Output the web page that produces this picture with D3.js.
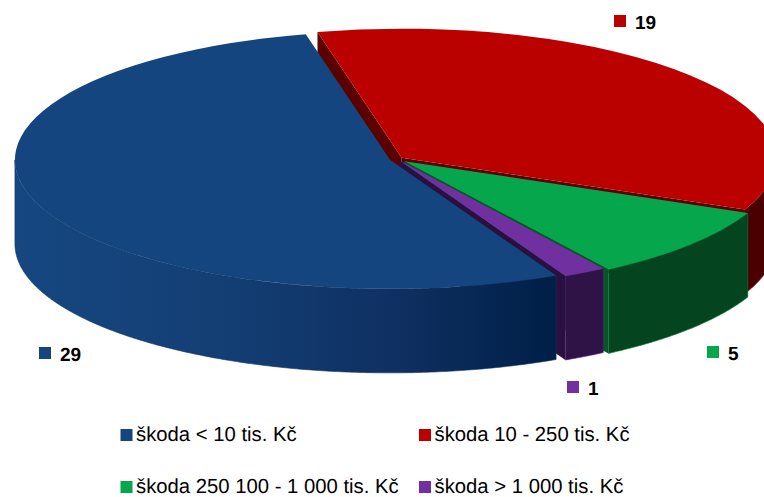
<!DOCTYPE html>
<html>

<head>
  <meta charset="utf-8">
  <title>Škody - 3D pie</title>
  <script src="https://cdn.jsdelivr.net/npm/d3@7/dist/d3.min.js"></script>
  <style type="text/css">
    html,
    body {
      margin: 0;
      padding: 0;
      background: #fff;
    }

    svg {
      display: block;
    }

    text {
      font-family: "Liberation Sans", Arial, sans-serif;
      fill: #000;
      text-rendering: geometricPrecision;
    }

    .value {
      font-size: 19px;
      font-weight: bold;
    }

    .legend text {
      font-size: 20.3px;
    }
  </style>
</head>

<body>
  <svg class="svg" width="764" height="497"></svg>
  <script type="text/javascript">
    var categories = ['škoda < 10 tis. Kč', 'škoda 10 - 250 tis. Kč', 'škoda 250 100 - 1 000 tis. Kč', 'škoda > 1 000 tis. Kč'];
    var values = [29, 19, 5, 1];

    var topColors = ['#14457f', '#bb0000', '#06a64d', '#7030a0'];
    var sideColors = ['url(#blueSide)', '#4a0000', '#04451f', '#2f1347'];
    var radialColors = ['#0c2a55', '#5a0000', '#06562a', '#2a1040'];
    var explode = [0.02, 0.016, 0.026, 0.012];

    // layout
    var cx = 397, cy = 159, rx = 375, ry = 129, depth = 84;
    var startAngle = 153.7 * Math.PI / 180;
    var valueLabels = [[39, 347], [614, 15], [707, 346], [567, 381]];
    var legendX = [120.5, 419], legendY = [429, 481];

    var svg = d3.select('.svg');

    var grad = svg.append('defs').append('linearGradient')
      .attr('id', 'blueSide')
      .attr('gradientUnits', 'userSpaceOnUse')
      .attr('x1', 15).attr('x2', 555).attr('y1', 0).attr('y2', 0);
    [[0, '#164780'], [0.4, '#133e74'], [0.7, '#0f3062'], [1, '#001f47']].forEach(function (s) {
      grad.append('stop').attr('offset', s[0]).attr('stop-color', s[1]);
    });

    var pie = d3.pie()
      .sort(null)
      .startAngle(startAngle)
      .endAngle(startAngle + Math.PI * 2);

    var arcs = pie(values);

    arcs.forEach(function (d, i) {
      // 角度換回 -90 ~ 270 的範圍
      if (d.startAngle >= Math.PI * 1.5) {
        d.startAngle -= Math.PI * 2;
        d.endAngle -= Math.PI * 2;
      }
      var mid = (d.startAngle + d.endAngle) / 2;
      d.x0 = cx + Math.sin(mid) * explode[i] * rx;
      d.y0 = cy - Math.cos(mid) * explode[i] * ry;
      d.i = i;
    });

    function px(d, a) { return d.x0 + Math.sin(a) * rx; }
    function py(d, a) { return d.y0 - Math.cos(a) * ry; }

    var topArc = d3.arc().innerRadius(0).outerRadius(rx);

    // 外牆 (只畫前面)
    function outerWall(d) {
      var a0 = Math.max(d.startAngle, Math.PI / 2);
      var a1 = Math.min(d.endAngle, Math.PI * 1.5);
      var angles = d3.range(a0, a1, 0.01).concat([a1]);
      return d3.area()
        .x(function (a) { return px(d, a); })
        .y0(function (a) { return py(d, a); })
        .y1(function (a) { return py(d, a) + depth; })(angles);
    }

    function radialWall(d, a) {
      return d3.line()([
        [d.x0, d.y0],
        [px(d, a), py(d, a)],
        [px(d, a), py(d, a) + depth],
        [d.x0, d.y0 + depth]
      ]) + 'Z';
    }

    // back to front
    var order = [1, 2, 3, 0];

    var slices = svg.selectAll('.slice')
      .data(order.map(function (i) { return arcs[i]; }))
      .enter()
      .append('g')
      .classed('slice', true);

    // visible cut faces: the clockwise end of each, the start only on red
    slices.filter(function (d) { return d.i !== 0; })
      .append('path')
      .attr('d', function (d) { return radialWall(d, d.endAngle); })
      .attr('fill', function (d) { return radialColors[d.i]; });

    slices.filter(function (d) { return d.i === 1; })
      .append('path')
      .attr('d', function (d) { return radialWall(d, d.startAngle); })
      .attr('fill', function (d) { return radialColors[d.i]; });

    slices.append('path')
      .attr('d', outerWall)
      .attr('fill', function (d) { return sideColors[d.i]; })
      .attr('stroke', function (d) { return d3.color(topColors[d.i]).darker(0.8); })
      .attr('stroke-width', 0.6);

    slices.append('path')
      .attr('d', topArc)
      .attr('transform', function (d) {
        return 'translate(' + d.x0 + ',' + d.y0 + ') scale(1,' + (ry / rx) + ')';
      })
      .attr('fill', function (d) { return topColors[d.i]; });

    // value labels
    var labels = svg.selectAll('.value-label')
      .data(values)
      .enter()
      .append('g')
      .classed('value-label', true)
      .attr('transform', function (d, i) {
        return 'translate(' + valueLabels[i][0] + ',' + valueLabels[i][1] + ')';
      });

    labels.append('rect')
      .attr('width', 12)
      .attr('height', 12)
      .attr('fill', function (d, i) { return topColors[i]; });

    labels.append('text')
      .classed('value', true)
      .attr('x', 21)
      .attr('y', 13.5)
      .text(function (d) { return d; });

    // legend
    var legend = svg.selectAll('.legend')
      .data(categories)
      .enter()
      .append('g')
      .classed('legend', true)
      .attr('transform', function (d, i) {
        return 'translate(' + legendX[i % 2] + ',' + legendY[Math.floor(i / 2)] + ')';
      });

    legend.append('rect')
      .attr('width', 12)
      .attr('height', 12)
      .attr('fill', function (d, i) { return topColors[i]; });

    legend.append('text')
      .attr('x', 15.5)
      .attr('y', 12)
      .text(function (d) { return d; });
  </script>
</body>

</html>
